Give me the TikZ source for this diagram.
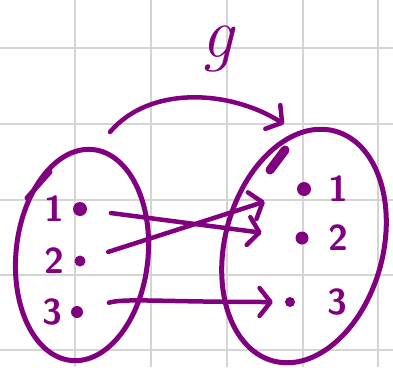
\documentclass[tikz,border=0pt]{standalone}
\usepackage{tikz}
\usepackage{xcolor}
\usetikzlibrary{positioning,arrows.meta,shapes.geometric}
\definecolor{ink}{HTML}{800080}
\definecolor{gridgray}{HTML}{D4D4D4}

\begin{document}
\begin{tikzpicture}[x=1pt,y=-1pt,every node/.style={font=\sffamily\bfseries\fontsize{36}{40}\selectfont,text=ink,inner sep=0pt}]
    \tikzstyle{set}=[ellipse,draw=ink,line width=5pt,inner sep=0pt];
    \tikzstyle{elem}=[circle,fill=ink,inner sep=0pt];
    \tikzstyle{map}=[draw=ink,line width=4.5pt,line cap=round,
                     -{Straight Barb[length=11pt,width=28pt,round]}];
    \useasboundingbox (0,0) rectangle (393,367);

    % squared paper
    \foreach \gx in {75,151,227,303,378} \draw[gridgray,line width=1.5pt] (\gx,0) -- (\gx,367);
    \foreach \gy in {48,124,200,275,350} \draw[gridgray,line width=1.5pt] (0,\gy) -- (393,\gy);

    % the two sets
    \node[set,minimum width=132pt,minimum height=212pt,rotate=-6] (lset) at (82,255) {};
    \node[set,minimum width=158pt,minimum height=238pt,rotate=-15] (rset) at (304,246) {};
    \draw[ink,line width=5pt,line cap=round] (27,198) -- (50,172);
    \draw[ink,line width=9pt,line cap=round] (270,170) -- (285,150);

    % left elements
    \node[elem,minimum size=14pt] (ld1) at (80,209) {};
    \node[elem,minimum size=11pt] (ld2) at (80,261) {};
    \node[elem,minimum size=12pt] (ld3) at (77,312) {};
    \node[left=8pt of ld1] (ln1) {1};
    \node[left=10pt of ld2] (ln2) {2};
    \node[left=8pt of ld3] (ln3) {3};

    % right elements
    \node[elem,minimum size=14pt] (rd1) at (304,189) {};
    \node[elem,minimum size=13pt] (rd2) at (302,238) {};
    \node[elem,minimum size=10pt] (rd3) at (290,302) {};
    \node[right=17pt of rd1] (rn1) {1};
    \node[right=20pt of rd2] (rn2) {2};
    \node[right=32pt of rd3] (rn3) {3};

    % the map g
    \draw[map,shorten <=24pt,shorten >=34pt] (ld1) -- (rd2);
    \draw[map,shorten <=24pt,shorten >=34pt] (ld2) -- (rd1);
    \draw[map,shorten <=27pt,shorten >=12pt] (ld3) .. controls (125,298) and (160,302) .. (rd3);
    \coordinate (gs) at (110,132);
    \coordinate (ge) at (284,124);
    \draw[map] (gs) .. controls (150,85) and (230,90) .. (ge);
    \node[font=\rmfamily\itshape\fontsize{72}{72}\selectfont] (glabel) at (218,49) {g};
\end{tikzpicture}
\end{document}
